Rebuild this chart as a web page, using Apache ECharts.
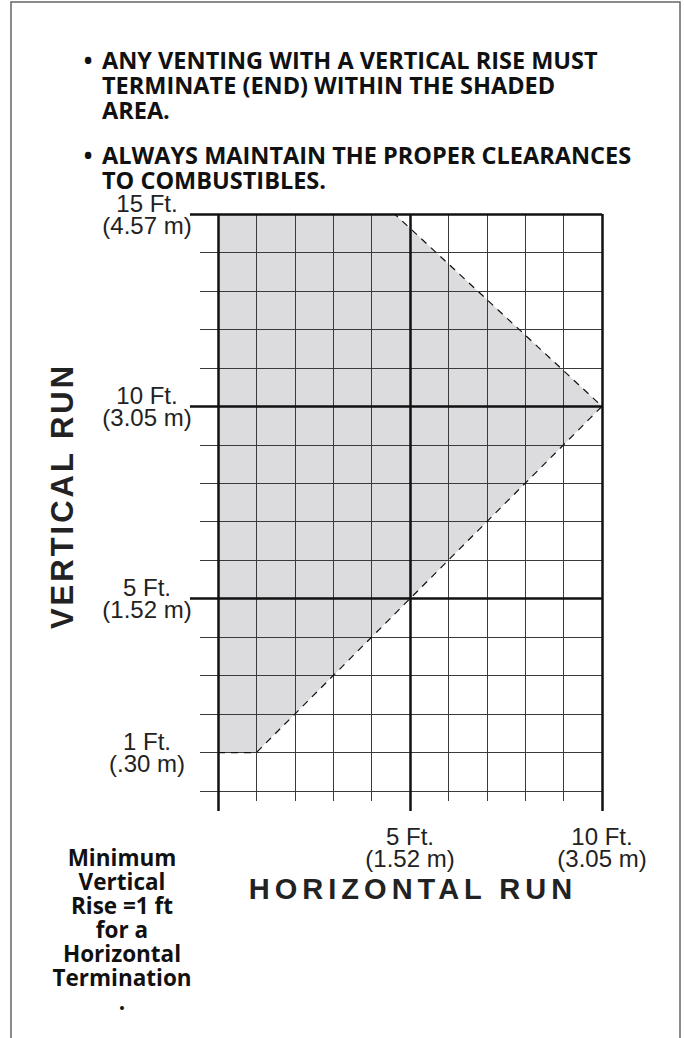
<!DOCTYPE html>
<html><head><meta charset="utf-8">
<script src="https://cdn.jsdelivr.net/npm/echarts@6/dist/echarts.min.js"></script>
<style>
html,body{margin:0;padding:0;background:#fff;}
#c{width:684px;height:1038px;}
text[style*="29px"]{letter-spacing:5px;}
text[style*="31px"]{letter-spacing:3px;}
</style></head><body><div id="c"></div>
<script>
// ---- data ----
const xLabelValues = [5, 10];
const xLabelFeet = ['5 Ft.', '10 Ft.'];
const xLabelMeters = ['(1.52 m)', '(3.05 m)'];
const yLabelValues = [1, 5, 10, 15];
const yLabelFeet = ['1 Ft.', '5 Ft.', '10 Ft.', '15 Ft.'];
const yLabelMeters = ['(.30 m)', '(1.52 m)', '(3.05 m)', '(4.57 m)'];
const zoneX = [0, 1, 5, 10, 4.6, 0];
const zoneY = [1, 1, 5, 10, 15, 15];
const edgeX = [0, 1, 5, 10, 4.6];
const edgeY = [1, 1, 5, 10, 15];
const noteLines1 = ['ANY VENTING WITH A VERTICAL RISE MUST', 'TERMINATE (END) WITHIN THE SHADED', 'AREA.'];
const noteLines2 = ['ALWAYS MAINTAIN THE PROPER CLEARANCES', 'TO COMBUSTIBLES.'];
const sideNote = ['Minimum', 'Vertical', 'Rise =1 ft', 'for a', 'Horizontal', 'Termination', '.'];
const xTitle = 'HORIZONTAL RUN';
const yTitle = 'VERTICAL RUN';

const chart = echarts.init(document.getElementById('c'), null, {renderer: 'svg'});
const tickFont = "'Liberation Sans', Arial, sans-serif";
const noteFont = "'Open Sans', 'Noto Sans', sans-serif";
const thin = {color: '#3a3a3a', width: 1};
const thick = {color: '#111', width: 2.5};

const zonePts = zoneX.map((x, i) => [x, zoneY[i]]);
const edgePts = edgeX.map((x, i) => [x, edgeY[i]]);

const graphics = [
  {type: 'rect', shape: {x: 11, y: 2, width: 669, height: 1100}, style: {fill: 'none', stroke: '#666', lineWidth: 1.5}, silent: true}
];
function noteBlock(lines, y0) {
  graphics.push({type: 'text', x: 88, y: y0, style: {text: '•', font: 'bold 23px ' + noteFont, fill: '#111', align: 'center', verticalAlign: 'middle'}});
  lines.forEach((t, i) => graphics.push({type: 'text', x: 102, y: y0 + i * 25,
    style: {text: t, font: 'bold 23.5px ' + noteFont, fill: '#111', align: 'left', verticalAlign: 'middle'}}));
}
noteBlock(noteLines1, 60);
noteBlock(noteLines2, 155);
graphics.push({type: 'text', x: 122, y: 845, style: {text: sideNote.join('\n'), font: 'bold 22.5px ' + noteFont, lineHeight: 24, fill: '#111', align: 'center', verticalAlign: 'top'}});
graphics.push({type: 'text', x: 413, y: 889, style: {text: xTitle, font: 'bold 29px ' + tickFont, fill: '#222', align: 'center', verticalAlign: 'middle'}});
graphics.push({type: 'text', x: 62, y: 496, rotation: Math.PI / 2, style: {text: yTitle, font: 'bold 31px ' + tickFont, fill: '#222', align: 'center', verticalAlign: 'middle'}});

function xFmt(v) { const i = xLabelValues.indexOf(v); return i < 0 ? '' : xLabelFeet[i] + '\n' + xLabelMeters[i]; }
function yFmt(v) { const i = yLabelValues.indexOf(v); return i < 0 ? '' : yLabelFeet[i] + '\n' + yLabelMeters[i]; }

chart.setOption({
  animation: false,
  backgroundColor: '#fff',
  grid: {left: 218, top: 214, width: 384, height: 577, containLabel: false},
  xAxis: [
    {type: 'value', min: 0, max: 10, interval: 1, position: 'bottom', z: 3,
      axisLine: {show: false},
      axisTick: {show: true, length: 10, lineStyle: thin},
      splitLine: {show: true, lineStyle: thin},
      axisLabel: {show: true, formatter: xFmt, margin: 34, fontFamily: tickFont, fontSize: 24, lineHeight: 22, color: '#222', verticalAlign: 'top'}},
    {type: 'value', min: 0, max: 10, interval: 5, position: 'bottom', offset: 0, z: 4,
      axisLine: {show: false},
      axisTick: {show: true, length: 20, lineStyle: thick},
      splitLine: {show: true, lineStyle: thick},
      axisLabel: {show: false}}
  ],
  yAxis: [
    {type: 'value', min: 0, max: 15, interval: 1, position: 'left', z: 3,
      axisLine: {show: false},
      axisTick: {show: true, length: 18, lineStyle: thin},
      splitLine: {show: true, lineStyle: thin},
      axisLabel: {show: true, formatter: yFmt, margin: 71, align: 'center', fontFamily: tickFont, fontSize: 24, lineHeight: 22, color: '#222'}},
    {type: 'value', min: 0, max: 15, interval: 5, position: 'left', offset: 0, z: 4,
      axisLine: {show: false},
      axisTick: {show: true, length: 28, lineStyle: thick, customValues: [5, 10, 15]},
      splitLine: {show: true, lineStyle: thick},
      axisLabel: {show: false}}
  ],
  graphic: graphics,
  series: [
    {type: 'custom', z: 1, silent: true, data: [0],
      renderItem: (params, api) => ({type: 'polygon', shape: {points: zonePts.map(p => api.coord(p))}, style: {fill: '#dcdcdf'}})},
    {type: 'line', z: 10, data: edgePts, symbol: 'none', silent: true,
      lineStyle: {color: '#111', width: 1.2, type: [7, 6]}}
  ]
});
</script></body></html>
